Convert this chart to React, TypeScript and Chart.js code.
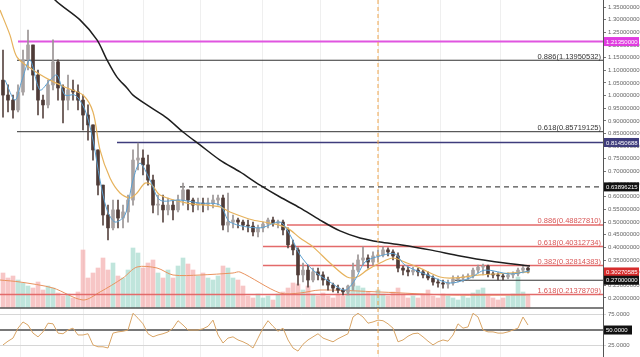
import { useEffect, useRef } from 'react';
import { Chart, registerables } from 'chart.js';
Chart.register(...registerables);

// ---- candles (open of each candle = previous close) ----
const firstOpen = 1.061;
const highs = [
  1.180, 1.042, 1.002, 1.042, 1.180, 1.259, 1.200, 1.101, 1.002, 1.061,
  1.220, 1.141, 1.042, 1.081, 1.061, 1.042, 1.002, 0.963, 0.884, 0.785,
  0.646, 0.567, 0.587, 0.587, 0.567, 0.607, 0.785, 0.812, 0.785, 0.765,
  0.686, 0.607, 0.607, 0.595, 0.587, 0.607, 0.654, 0.627, 0.595, 0.595,
  0.595, 0.595, 0.607, 0.607, 0.607, 0.615, 0.528, 0.516, 0.508, 0.508,
  0.500, 0.488, 0.500, 0.516, 0.520, 0.508, 0.508, 0.477, 0.429, 0.398,
  0.338, 0.330, 0.318, 0.318, 0.303, 0.283, 0.259, 0.251, 0.239, 0.251,
  0.338, 0.370, 0.402, 0.370, 0.382, 0.390, 0.402, 0.398, 0.390, 0.378,
  0.326, 0.322, 0.322, 0.318, 0.310, 0.303, 0.287, 0.275, 0.271, 0.271,
  0.287, 0.287, 0.291, 0.295, 0.318, 0.330, 0.334, 0.330, 0.303, 0.299,
  0.295, 0.299, 0.303, 0.318, 0.330, 0.322,
];
const lows = [
  0.915, 0.935, 0.911, 0.935, 1.002, 1.101, 1.022, 0.923, 0.911, 0.951,
  1.022, 0.982, 0.892, 0.943, 0.982, 0.943, 0.864, 0.824, 0.745, 0.607,
  0.488, 0.429, 0.469, 0.477, 0.477, 0.500, 0.567, 0.706, 0.686, 0.646,
  0.536, 0.528, 0.500, 0.528, 0.508, 0.540, 0.567, 0.548, 0.540, 0.548,
  0.540, 0.548, 0.556, 0.567, 0.469, 0.461, 0.477, 0.477, 0.469, 0.461,
  0.445, 0.441, 0.461, 0.477, 0.484, 0.477, 0.449, 0.398, 0.370, 0.251,
  0.263, 0.243, 0.263, 0.271, 0.251, 0.231, 0.224, 0.220, 0.212, 0.212,
  0.231, 0.303, 0.330, 0.318, 0.330, 0.342, 0.362, 0.366, 0.350, 0.303,
  0.291, 0.287, 0.291, 0.287, 0.279, 0.271, 0.251, 0.243, 0.239, 0.239,
  0.251, 0.263, 0.263, 0.271, 0.279, 0.299, 0.291, 0.283, 0.279, 0.271,
  0.271, 0.275, 0.279, 0.287, 0.299, 0.299,
];
const closes = [
  1.002, 0.982, 0.943, 1.014, 1.141, 1.200, 1.081, 0.982, 0.963, 1.042,
  1.133, 1.030, 0.982, 1.022, 1.014, 0.982, 0.923, 0.884, 0.785, 0.646,
  0.528, 0.477, 0.548, 0.516, 0.540, 0.587, 0.745, 0.753, 0.726, 0.666,
  0.567, 0.567, 0.548, 0.567, 0.548, 0.587, 0.627, 0.587, 0.567, 0.575,
  0.571, 0.575, 0.587, 0.595, 0.488, 0.500, 0.508, 0.500, 0.488, 0.484,
  0.461, 0.477, 0.492, 0.508, 0.496, 0.500, 0.469, 0.410, 0.390, 0.291,
  0.310, 0.271, 0.303, 0.291, 0.271, 0.251, 0.239, 0.231, 0.224, 0.247,
  0.310, 0.350, 0.358, 0.342, 0.366, 0.370, 0.390, 0.382, 0.366, 0.318,
  0.310, 0.303, 0.310, 0.303, 0.291, 0.279, 0.263, 0.259, 0.255, 0.259,
  0.275, 0.279, 0.283, 0.287, 0.310, 0.322, 0.326, 0.295, 0.291, 0.287,
  0.283, 0.291, 0.295, 0.310, 0.318, 0.310,
];
const volumes = [
  35, 30, 32, 28, 25, 22, 20, 26, 18, 22,
  20, 15, 12, 14, 10, 16, 58, 30, 35, 40,
  50, 38, 45, 32, 30, 38, 60, 55, 40, 45,
  48, 35, 30, 38, 30, 42, 50, 44, 38, 32,
  35, 30, 28, 32, 42, 40, 30, 28, 22, 12,
  10, 14, 10, 12, 8, 14, 16, 20, 25, 24,
  18, 22, 14, 12, 15, 12, 10, 14, 12, 16,
  25, 22, 20, 16, 14, 18, 14, 12, 16, 20,
  14, 10, 12, 10, 14, 18, 12, 10, 14, 12,
  10, 8, 12, 10, 15, 18, 20, 12, 10, 8,
  10, 12, 14, 31, 16, 12,
];
const rsi = [
  26, 32, 37, 53, 63, 58, 45, 39, 47, 61,
  60, 45, 44, 50, 53, 42, 42, 44, 26, 23,
  23, 21, 45, 47, 48, 50, 77, 69, 60, 44,
  39, 42, 44, 47, 53, 65, 58, 50, 50, 50,
  52, 56, 66, 42, 29, 37, 39, 34, 31, 27,
  21, 37, 53, 65, 56, 48, 53, 34, 21, 16,
  27, 34, 39, 44, 37, 34, 31, 36, 40, 44,
  71, 77, 71, 61, 63, 66, 65, 60, 53, 31,
  34, 40, 44, 45, 39, 32, 26, 31, 34, 32,
  42, 60, 53, 55, 77, 71, 50, 47, 47, 45,
  45, 47, 50, 53, 71, 58,
];

// ---- moving averages (x in candle index units) ----
const ma200Idx = [8.4, 10.4, 15.4, 18.8, 20.8, 22.8, 24.8, 26, 29.4, 32.8, 36, 39.4, 43.4, 47.4, 51.4, 55.4, 59.4, 63.4, 67.4, 71.4, 75.4, 79.4, 85.4, 91.4, 97.4, 105.4];
const ma200Val = [1.437, 1.378, 1.299, 1.220, 1.141, 1.073, 1.030, 1.002, 0.955, 0.911, 0.856, 0.805, 0.745, 0.698, 0.646, 0.599, 0.556, 0.508, 0.465, 0.437, 0.421, 0.410, 0.390, 0.366, 0.346, 0.326];
const maSlowIdx = [-0.6, 1.4, 2.8, 6, 9.4, 12.8, 16, 18, 19.4, 21.4, 23.4, 25.4, 26.8, 28.4, 29.8, 31.4, 36.8, 43.4, 45.4, 50, 53.4, 56.8, 59.4, 62, 65.4, 68.8, 70.8, 72.8, 75.4, 78, 80.8, 83.4, 87.4, 90, 95.4, 102, 105.4];
const maSlowVal = [1.338, 1.239, 1.152, 1.101, 1.061, 1.030, 1.002, 0.935, 0.785, 0.674, 0.615, 0.595, 0.615, 0.654, 0.646, 0.607, 0.575, 0.560, 0.540, 0.508, 0.496, 0.477, 0.437, 0.402, 0.338, 0.283, 0.283, 0.310, 0.338, 0.358, 0.338, 0.318, 0.283, 0.279, 0.291, 0.299, 0.303];
const maFastIdx = [0.4, 2.4, 3.8, 5.4, 7.4, 9.4, 10.8, 12.4, 14.4, 16.4, 18, 19.4, 20.8, 22.4, 24.4, 26, 27.4, 29.4, 31.4, 35.4, 39.4, 43.4, 45.4, 51.4, 55.4, 57.4, 59.4, 62, 65.4, 68.4, 70.4, 72.4, 75.4, 78.4, 80.4, 85.4, 89.4, 93.4, 96.4, 101.4, 105.4];
const maFastVal = [1.061, 0.982, 1.061, 1.141, 1.022, 1.061, 1.081, 1.002, 1.002, 0.943, 0.824, 0.666, 0.548, 0.500, 0.528, 0.666, 0.733, 0.666, 0.587, 0.587, 0.575, 0.567, 0.500, 0.477, 0.500, 0.449, 0.370, 0.310, 0.263, 0.231, 0.271, 0.342, 0.366, 0.374, 0.330, 0.287, 0.259, 0.279, 0.310, 0.295, 0.307];
const volMaIdx = [-0.6, 3.4, 10, 16, 19.4, 24, 26.8, 30.8, 34, 39.4, 46, 47.4, 55.4, 59.4, 63.4, 75.4, 89.4, 105.4];
const volMaVal = [28, 26, 20, 8, 16, 30, 41, 40, 33, 33, 35, 36, 15, 15, 18, 16, 13, 13];

// ---- levels ----
const levelValues = [1.2135, 1.13950532, 0.85719125, 0.8145, 0.63896215, 0.4882781, 0.40312734, 0.32814383, 0.21378709, 0.27];
const levelLabels = ['', '0.886(1.13950532)', '0.618(0.85719125)', '', '', '0.886(0.48827810)', '0.618(0.40312734)', '0.382(0.32814383)', '1.618(0.21378709)', ''];
const levelStart = [3, 2.8, 2.8, 22.8, 35.4, 56.8, 52, 52, -0.6, 90.4];
const levelColor = ['#e055e0', '#333333', '#333333', '#3e3c7c', '#222222', '#e36a6a', '#e36a6a', '#e36a6a', '#e36a6a', '#333333'];
const levelWidth = [2, 1, 1, 1.5, 1, 1.5, 1.5, 1.5, 1.5, 1];
const levelDash = [[], [], [], [], [5, 4], [], [], [], [], []];
const labelColor = ['', '#333333', '#333333', '', '', '#d85555', '#d85555', '#d85555', '#d85555', ''];

const boxValues = [1.2135, 0.8145, 0.63896215, 0.3027, 0.27];
const boxTexts = ['1.21350000', '0.81450688', '0.63896215', '0.30270585', '0.27000000'];
const boxColors = ['#e03ce0', '#3e3c7c', '#111111', '#d62c2c', '#111111'];
const rsiBoxValue = 50;
const rsiBoxText = '50.0000';

const priceTicks = [0.20, 0.25, 0.30, 0.35, 0.40, 0.45, 0.50, 0.55, 0.60, 0.65, 0.70, 0.75, 0.80, 0.85, 0.90, 0.95, 1.00, 1.05, 1.10, 1.15, 1.20, 1.25, 1.30, 1.35];
const rsiTicks = [25, 50, 75];
const gridIdx = [3.4, 16, 28, 39.4, 51.8, 63.4, 75, 87.4, 99.4];
const cursorIdx = 75;

const FONT = 'Liberation Sans';

export default function App() {
  const ref = useRef<HTMLCanvasElement | null>(null);
  useEffect(() => {
    document.body.style.margin = '0';
    const opens = closes.map((c, i) => (i === 0 ? firstOpen : closes[i - 1]));
    const up = closes.map((c, i) => c >= opens[i]);
    const upCol = '#a8a2a2';
    const dnCol = '#4e3b37';

    const levelSets = levelValues.map((v, i) => ({
      type: 'line' as const,
      data: [{ x: levelStart[i], y: v }, { x: 120, y: v }],
      borderColor: levelColor[i],
      borderWidth: levelWidth[i],
      borderDash: levelDash[i],
      pointRadius: 0,
      yAxisID: 'y',
      order: 6,
    }));

    const overlay = {
      id: 'overlay',
      afterDatasetsDraw(chart: any) {
        const { ctx, chartArea, scales } = chart;
        const y = scales.y, x = scales.x;
        ctx.save();
        ctx.strokeStyle = '#555';
        ctx.lineWidth = 1.5;
        ctx.beginPath();
        ctx.moveTo(chartArea.left, y.bottom);
        ctx.lineTo(chartArea.right, y.bottom);
        ctx.stroke();
        const vx = x.getPixelForValue(cursorIdx);
        ctx.setLineDash([4, 3]);
        ctx.strokeStyle = '#f0a54a';
        ctx.lineWidth = 1;
        ctx.beginPath();
        ctx.moveTo(vx, chartArea.top);
        ctx.lineTo(vx, chartArea.bottom);
        ctx.stroke();
        ctx.setLineDash([]);
        ctx.font = `7.5px "${FONT}"`;
        ctx.textAlign = 'right';
        ctx.textBaseline = 'bottom';
        levelValues.forEach((v, i) => {
          if (!levelLabels[i]) return;
          ctx.fillStyle = labelColor[i];
          ctx.fillText(levelLabels[i], chartArea.right - 2, y.getPixelForValue(v));
        });
        ctx.restore();
      },
      afterDraw(chart: any) {
        const { ctx, chartArea, scales } = chart;
        const y = scales.y, yr = scales.yr;
        ctx.save();
        ctx.font = `6px "${FONT}"`;
        ctx.textAlign = 'left';
        ctx.textBaseline = 'middle';
        const bx = chartArea.right + 1;
        boxValues.forEach((v, i) => {
          const py = y.getPixelForValue(v);
          ctx.fillStyle = boxColors[i];
          ctx.fillRect(bx, py - 4.5, 35, 9);
          ctx.fillStyle = '#ffffff';
          ctx.fillText(boxTexts[i], bx + 2, py + 0.5);
        });
        const ry = yr.getPixelForValue(rsiBoxValue);
        ctx.fillStyle = '#111111';
        ctx.fillRect(bx, ry - 4.5, 28, 9);
        ctx.fillStyle = '#ffffff';
        ctx.fillText(rsiBoxText, bx + 2, ry + 0.5);
        ctx.restore();
      },
    };

    const fitRight = (s: any) => {
      s.width = 37;
      s.paddingTop = 0;
      s.paddingBottom = 0;
    };

    const chart = new Chart(ref.current as HTMLCanvasElement, {
      type: 'bar',
      data: {
        datasets: [
          {
            type: 'line',
            data: ma200Idx.map((x, i) => ({ x, y: ma200Val[i] })),
            borderColor: '#1e1e1e',
            borderWidth: 1.5,
            pointRadius: 0,
            tension: 0.3,
            yAxisID: 'y',
            order: 1,
          },
          {
            type: 'line',
            data: maFastIdx.map((x, i) => ({ x, y: maFastVal[i] })),
            borderColor: '#5b9fd0',
            borderWidth: 1,
            pointRadius: 0,
            tension: 0.3,
            yAxisID: 'y',
            order: 2,
          },
          {
            type: 'line',
            data: maSlowIdx.map((x, i) => ({ x, y: maSlowVal[i] })),
            borderColor: '#e6b25c',
            borderWidth: 1.2,
            pointRadius: 0,
            tension: 0.3,
            yAxisID: 'y',
            order: 2,
          },
          {
            type: 'bar',
            data: closes.map((c, i) => ({ x: i, y: [opens[i], c] })),
            backgroundColor: up.map((u) => (u ? upCol : dnCol)),
            barThickness: 3,
            minBarLength: 1,
            grouped: false,
            yAxisID: 'y',
            order: 3,
          } as any,
          {
            type: 'bar',
            data: highs.map((h, i) => ({ x: i, y: [lows[i], h] })),
            backgroundColor: up.map((u) => (u ? '#9a9494' : '#5a4743')),
            barThickness: 1,
            grouped: false,
            yAxisID: 'y',
            order: 4,
          } as any,
          ...levelSets,
          {
            type: 'line',
            data: rsi.map((v, i) => ({ x: i, y: v })),
            borderColor: '#d9a566',
            borderWidth: 1,
            pointRadius: 0,
            yAxisID: 'yr',
            order: 2,
          },
          {
            type: 'line',
            data: volMaIdx.map((x, i) => ({ x, y: volMaVal[i] })),
            borderColor: '#e8925e',
            borderWidth: 1,
            pointRadius: 0,
            tension: 0.3,
            yAxisID: 'yv',
            order: 8,
          },
          {
            type: 'bar',
            data: volumes.map((v, i) => ({ x: i, y: v })),
            backgroundColor: up.map((u) => (u ? 'rgba(150,212,196,0.6)' : 'rgba(242,160,160,0.6)')),
            barThickness: 4,
            grouped: false,
            yAxisID: 'yv',
            order: 9,
          } as any,
        ] as any,
      },
      options: {
        animation: false,
        responsive: true,
        maintainAspectRatio: false,
        events: [],
        layout: { padding: 0 },
        plugins: { legend: { display: false }, tooltip: { enabled: false } },
        scales: {
          x: {
            type: 'linear',
            min: -0.6,
            max: 120,
            offset: false,
            afterBuildTicks: (s: any) => {
              s.ticks = gridIdx.map((v) => ({ value: v }));
            },
            ticks: { display: false },
            grid: { color: '#efefef', drawTicks: false, offset: false },
            border: { display: false },
            afterFit: (s: any) => {
              s.height = 0;
            },
          },
          y: {
            type: 'linear',
            position: 'right',
            stack: 'main',
            stackWeight: 308,
            min: 0.1603,
            max: 1.3777,
            afterBuildTicks: (s: any) => {
              s.ticks = priceTicks.map((v) => ({ value: v }));
            },
            ticks: {
              autoSkip: false,
              font: { size: 6, family: FONT },
              color: '#666',
              padding: 2,
              callback: (v: any) => Number(v).toFixed(8),
            },
            grid: { drawOnChartArea: false, tickLength: 3, color: '#777' },
            border: { color: '#555' },
            afterFit: fitRight,
          },
          yr: {
            type: 'linear',
            position: 'right',
            stack: 'main',
            stackWeight: 49,
            min: 6.5,
            max: 85.5,
            afterBuildTicks: (s: any) => {
              s.ticks = rsiTicks.map((v) => ({ value: v }));
            },
            ticks: {
              autoSkip: false,
              font: { size: 6, family: FONT },
              color: '#666',
              padding: 2,
              callback: (v: any) => Number(v).toFixed(4),
            },
            grid: {
              tickLength: 3,
              color: (c: any) => (c.tick && c.tick.value === 50 ? '#787878' : '#d6d6d6'),
              lineWidth: (c: any) => (c.tick && c.tick.value === 50 ? 2 : 1),
            },
            border: { color: '#555' },
            afterFit: fitRight,
          },
          yv: {
            type: 'linear',
            display: false,
            min: -49,
            max: 308,
          },
        },
      } as any,
      plugins: [overlay],
    });
    return () => chart.destroy();
  }, []);
  return (
    <div style={{ width: 640, height: 357, position: 'relative', background: '#fff' }}>
      <canvas ref={ref} />
    </div>
  );
}
